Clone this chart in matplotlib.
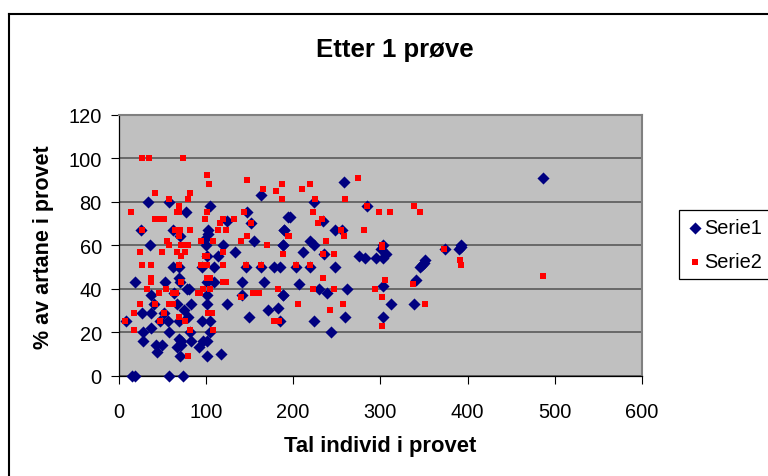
import matplotlib; matplotlib.use("Agg")
import matplotlib.pyplot as plt
from matplotlib.lines import Line2D

plt.rcParams["font.family"] = ["Liberation Sans", "DejaVu Sans"]

title = "Etter 1 prøve"
xlabel = "Tal individ i provet"
ylabel = "% av artane i provet"
xticks = [0, 100, 200, 300, 400, 500, 600]
yticks = [0, 20, 40, 60, 80, 100, 120]

serie1_x = [34, 58, 77, 105, 147, 163, 194, 26, 63, 70, 103, 99, 124, 152, 190, 155, 120, 133, 188, 36,
            114, 63, 69, 96, 110, 146, 163, 178, 185, 19, 53, 69, 70, 102, 109, 141, 167,
            37, 78, 81, 64, 102, 141, 188, 41, 67, 83, 102, 124, 27, 37, 52, 75, 80, 171, 183, 149,
            9, 57, 47, 69, 96, 105, 185, 37, 28, 58, 82, 105, 28, 43, 50, 69, 72, 83, 97, 102, 67, 72, 92,
            44, 70, 102, 117, 16, 19, 58, 74, 258, 224, 285, 196, 234, 190, 248, 256, 188, 220, 224, 211,
            235, 301, 303, 307, 303, 276, 282, 295, 374, 351, 346, 390, 204, 220, 248, 341, 303, 207,
            230, 239, 262, 189, 312, 339, 224, 260, 303, 243, 486, 393, 393, 350, 348, 100, 103, 101]
serie1_y = [80, 80, 75, 78, 75, 83, 73, 67, 67, 64, 67, 63, 71, 70, 67, 62, 60, 57, 60, 60,
            55, 50, 50, 50, 50, 50, 50, 50, 50, 43, 43, 45, 43, 43, 43, 43, 43,
            37, 40, 40, 38, 37, 37, 37, 33, 33, 33, 33, 33, 29, 29, 29, 30, 27, 30, 31, 27,
            25, 25, 25, 25, 25, 25, 25, 22, 20, 20, 20, 20, 16, 14, 14, 17, 16, 16, 16, 16, 13, 14, 13,
            11, 9, 9, 10, 0, 0, 0, 0, 89, 80, 78, 73, 71, 67, 67, 67, 60, 62, 60, 57,
            56, 58, 60, 56, 54, 55, 54, 54, 58, 53, 50, 58, 50, 50, 50, 44, 41, 42,
            40, 38, 40, 37, 33, 33, 25, 27, 27, 20, 91, 59, 60, 52, 51, 60, 65, 55]

serie2_x = [27, 35, 74, 101, 104, 147, 166, 187, 181, 187, 42, 82, 80, 58, 69, 14, 69, 67, 101, 144,
            42, 49, 52, 99, 120, 132, 116, 152, 27, 65, 70, 82, 114, 123, 69, 147, 194, 56, 58, 72,
            76, 80, 95, 108, 140, 170, 25, 50, 67, 76, 120, 72, 99, 102, 189, 27, 37, 69, 94, 98, 102,
            120, 146, 163, 37, 37, 72, 102, 105, 120, 123, 33, 54, 97, 105, 183, 46, 63, 66, 91, 93, 154,
            161, 140, 25, 42, 58, 62, 18, 52, 103, 107, 69, 8, 48, 76, 178, 181, 184, 18, 82, 108, 80,
            219, 210, 275, 225, 260, 285, 339, 298, 311, 345, 223, 233, 229, 281, 255, 259, 195, 238,
            302, 302, 373, 391, 392, 189, 234, 247, 204, 220, 234, 306, 338, 223, 247, 294, 302, 206,
            257, 351, 242, 302, 486]
serie2_y = [100, 100, 100, 92, 88, 90, 86, 88, 85, 81, 84, 84, 81, 81, 78, 75, 75, 75, 75, 75,
            72, 72, 72, 72, 72, 72, 70, 70, 67, 67, 67, 67, 67, 67, 64, 64, 64, 62, 60, 60,
            60, 60, 62, 62, 62, 60, 57, 57, 57, 57, 57, 55, 55, 55, 56, 51, 51, 51, 51, 51, 51,
            51, 51, 51, 45, 43, 43, 45, 45, 43, 43, 40, 40, 40, 40, 40, 38, 38, 38, 38, 38, 38,
            38, 36, 33, 33, 33, 33, 29, 29, 29, 29, 27, 25, 25, 25, 25, 25, 25, 21, 21, 21, 9,
            88, 86, 91, 81, 81, 78, 78, 75, 75, 75, 75, 72, 70, 67, 67, 64, 64, 62,
            60, 59, 58, 53, 51, 56, 56, 56, 51, 51, 45, 44, 42, 40, 40, 40, 36, 33,
            33, 33, 30, 23, 46]

W, H = 768, 477
fig = plt.figure(figsize=(W / 100, H / 100), dpi=100)
ax = fig.add_axes([118.5 / W, 1 - 376.7 / H, (642 - 118.5) / W, (376.7 - 115.5) / H])
ax.set_facecolor("#c0c0c0")

ax.scatter(serie1_x, serie1_y, marker="D", s=38, color="#000080", linewidths=0, zorder=3, clip_on=False, label="Serie1")
ax.scatter(serie2_x, serie2_y, marker="s", s=24, color="#ff0000", linewidths=0, zorder=4, clip_on=False, label="Serie2")

ax.set_xlim(0, 600)
ax.set_ylim(0, 120)
ax.set_xticks(xticks)
ax.set_yticks(yticks)
ax.tick_params(labelsize=14.4, length=6, width=0.8, color="black")
ax.tick_params(axis="x", pad=13)
ax.tick_params(axis="y", pad=6)
ax.grid(axis="y", color="#505050", lw=1.1, zorder=1)
ax.set_axisbelow(True)
for side in ["top", "right"]:
    ax.spines[side].set_color("#808080")
    ax.spines[side].set_linewidth(1.5)
for side in ["left", "bottom"]:
    ax.spines[side].set_color("black")
    ax.spines[side].set_linewidth(0.9)

fig.text(395 / W, 1 - 50 / H, title, fontsize=18.5, fontweight="bold", ha="center", va="center")
fig.text(380 / W, 1 - 447 / H, xlabel, fontsize=15.8, fontweight="bold", ha="center", va="center")
fig.text(44 / W, 1 - 247 / H, ylabel, fontsize=15.5, fontweight="bold", rotation=90, ha="center", va="center")

# chart frame, only left and top edges fall inside the image
fig.add_artist(Line2D([8.5 / W, 8.5 / W], [0, 1 - 15 / H], color="black", lw=1.5))
fig.add_artist(Line2D([8.5 / W, 1], [1 - 15 / H, 1 - 15 / H], color="black", lw=1.5))

handles, labels = ax.get_legend_handles_labels()
leg = fig.legend(handles, labels, loc="upper left", bbox_to_anchor=(679 / W, 1 - 211 / H), borderaxespad=0,
                 fontsize=14.4, fancybox=False, framealpha=1, edgecolor="black", handletextpad=0.05,
                 handlelength=0.8, borderpad=0.42, labelspacing=0.72)
leg.get_frame().set_linewidth(0.9)

fig.savefig("out.png", dpi=100)
plt.close(fig)
